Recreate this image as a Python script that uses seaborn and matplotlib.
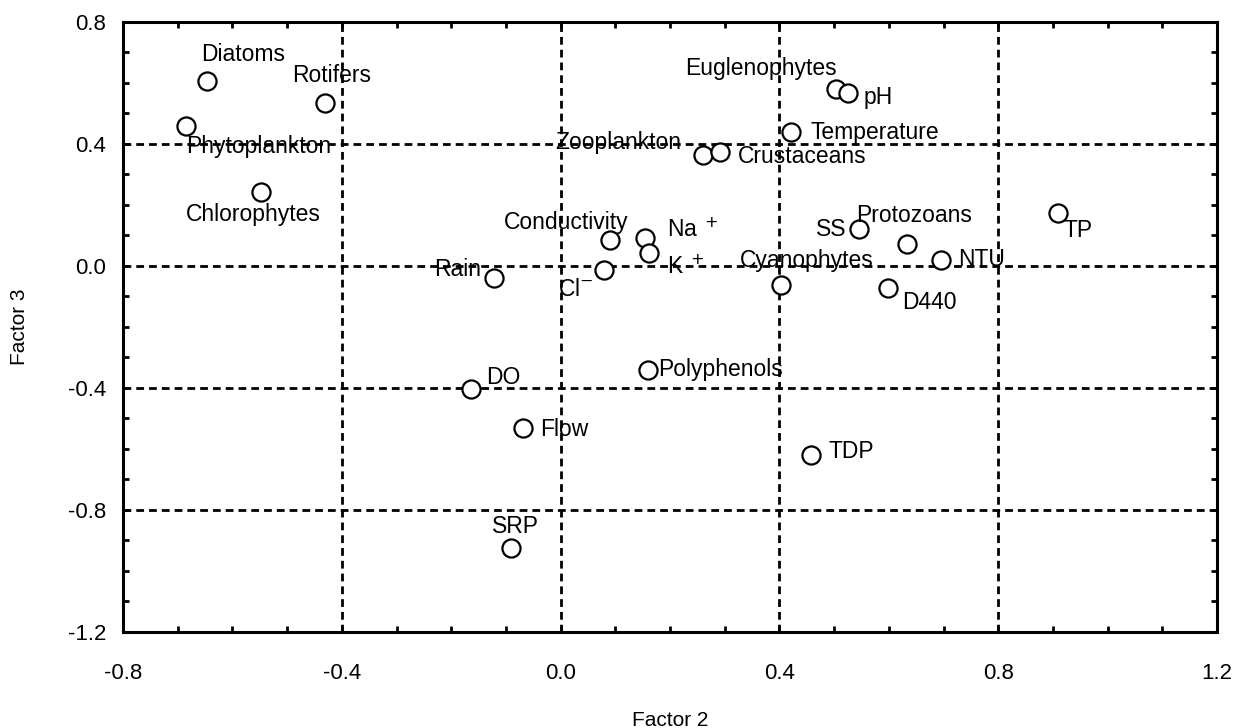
import matplotlib
matplotlib.use("Agg")
import matplotlib.pyplot as plt
import seaborn as sns
import pandas as pd
from matplotlib.ticker import MultipleLocator

# ---- data ----
labels = ["Diatoms", "Rotifers", "Phytoplankton", "Chlorophytes", "Euglenophytes", "pH",
          "Temperature", "Zooplankton", "Crustaceans", "Conductivity", "Na$^{\\ +}$", "K$^{\\ +}$",
          "Cl$^{-}$", "Rain", "Cyanophytes", "SS", "Protozoans", "NTU", "D440", "TP",
          "DO", "Flow", "Polyphenols", "TDP", "SRP"]
factor2 = [-0.647, -0.431, -0.684, -0.548, 0.503, 0.525,
           0.422, 0.261, 0.291, 0.091, 0.155, 0.161,
           0.080, -0.122, 0.402, 0.545, 0.633, 0.695, 0.598, 0.910,
           -0.163, -0.069, 0.159, 0.457, -0.090]
factor3 = [0.607, 0.534, 0.459, 0.243, 0.580, 0.567,
           0.439, 0.364, 0.374, 0.085, 0.092, 0.043,
           -0.013, -0.039, -0.062, 0.121, 0.072, 0.020, -0.072, 0.174,
           -0.403, -0.531, -0.341, -0.620, -0.925]
x_ticks = [-0.8, -0.4, 0.0, 0.4, 0.8, 1.2]
y_ticks = [-1.2, -0.8, -0.4, 0.0, 0.4, 0.8]

# label placement (pixel offsets, horizontal alignment)
label_offsets = [(-6, 26, "left"), (-33, 28, "left"), (0, -21, "left"), (-75, -23, "left"),
                 (1, 21, "right"), (16, -4, "left"), (19, 0, "left"), (-22, 12, "right"),
                 (18, -5, "left"), (18, 18, "right"), (22, 8, "left"), (18, -14, "left"),
                 (-11, -20, "right"), (-13, 8, "right"), (-41, 24, "left"), (-12, 0, "right"),
                 (-51, 29, "left"), (17, 0, "left"), (14, -15, "left"), (5, -18, "left"),
                 (15, 11, "left"), (17, -2, "left"), (11, 0, "left"), (18, 4, "left"),
                 (-19, 22, "left")]

df = pd.DataFrame({"Factor 2": factor2, "Factor 3": factor3, "label": labels})

sns.set_theme(style="white")
plt.rcParams["font.family"] = ["Liberation Sans", "DejaVu Sans"]

fig = plt.figure(figsize=(12.49, 7.28), dpi=100)
ax = fig.add_axes([0.0985, 0.1319, 0.8759, 0.8379])

sns.scatterplot(data=df, x="Factor 2", y="Factor 3", ax=ax, marker="o", s=170,
                facecolors="white", edgecolor="black", linewidth=1.6, zorder=3)

for lab, x, y, (dx, dy, ha) in zip(labels, factor2, factor3, label_offsets):
    ax.annotate(lab, (x, y), xytext=(dx, dy), textcoords="offset pixels",
                ha=ha, va="center", fontsize=16.5, color="black", zorder=4)

ax.set_xlim(-0.8, 1.2)
ax.set_ylim(-1.2, 0.8)
ax.set_xticks(x_ticks)
ax.set_yticks(y_ticks)
ax.set_xticklabels([f"{t:.1f}" for t in x_ticks])
ax.set_yticklabels([f"{t:.1f}" for t in y_ticks])
ax.xaxis.set_minor_locator(MultipleLocator(0.1))
ax.yaxis.set_minor_locator(MultipleLocator(0.1))
ax.tick_params(which="both", direction="in", top=True, right=True, bottom=True, left=True,
               color="black", width=2)
ax.tick_params(which="major", length=4, labelsize=16, labelcolor="black")
ax.tick_params(which="minor", length=4)
ax.tick_params(axis="x", which="major", pad=22)
ax.tick_params(axis="y", which="major", pad=12)

for v in x_ticks[1:-1]:
    ax.axvline(v, color="black", lw=2.0, ls=(0, (2.8, 1.8)), zorder=1)
for v in y_ticks[1:-1]:
    ax.axhline(v, color="black", lw=2.0, ls=(0, (2.8, 1.8)), zorder=1)

for sp in ax.spines.values():
    sp.set_color("black")
    sp.set_linewidth(2.2)

ax.set_xlabel("Factor 2", fontsize=15, labelpad=20, color="black")
ax.set_ylabel("Factor 3", fontsize=15, labelpad=28, color="black")

fig.savefig("out.png", dpi=100)
